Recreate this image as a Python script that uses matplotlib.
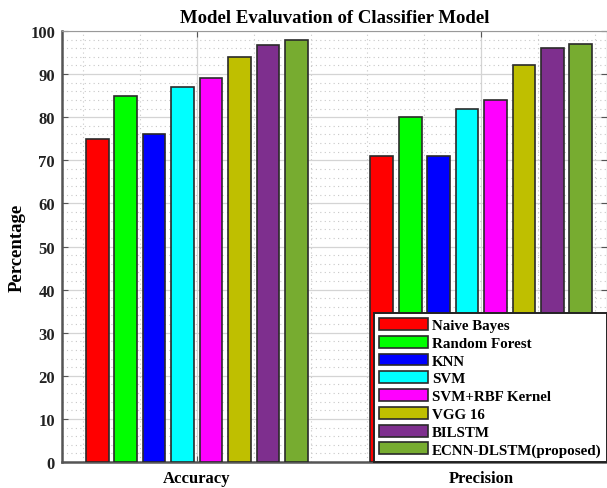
import numpy as np
import matplotlib.pyplot as plt
from matplotlib.ticker import MultipleLocator

# data
metrics = ['Accuracy', 'Precision']
models = ['Naive Bayes', 'Random Forest', 'KNN', 'SVM', 'SVM+RBF Kernel',
          'VGG 16', 'BILSTM', 'ECNN-DLSTM(proposed)']
accuracy = [75, 85, 76, 87, 89, 94, 96.8, 98]
precision = [71, 80, 71, 82, 84, 92, 96, 97]
colors = ['#ff0000', '#00ff00', '#0000ff', '#00ffff', '#ff00ff',
          '#bfbf00', '#7e2f8e', '#77ac30']

plt.rcParams['font.family'] = ['Liberation Serif', 'DejaVu Serif']
plt.rcParams['font.weight'] = 'bold'

fig = plt.figure(figsize=(6.07, 4.89), dpi=100)
ax = fig.add_axes([62 / 607, 26 / 489, 545 / 607, 431 / 489])

x = np.arange(1, len(metrics) + 1)
n = len(models)
slot = 0.1
width = 0.08
values = np.array([accuracy, precision])  # rows = metrics
for i, (name, col) in enumerate(zip(models, colors)):
    offs = (i - (n - 1) / 2) * slot
    ax.bar(x + offs, values[:, i], width, color=col, edgecolor='#2a2a2a',
           linewidth=1.2, label=name, zorder=3)

ax.set_xlim(0.5263, 2.442)
ax.set_ylim(0, 100)
ax.set_xticks(x)
ax.set_xticklabels(metrics, fontsize=12, fontweight='bold')
ax.set_yticks(np.arange(0, 101, 10))
ax.tick_params(axis='y', labelsize=12, pad=5, labelcolor='#222222')
ax.tick_params(axis='x', pad=6)
ax.tick_params(which='major', direction='in', length=4, color='#555555',
               top=True, right=True)
ax.xaxis.set_minor_locator(MultipleLocator(0.2))
ax.yaxis.set_minor_locator(MultipleLocator(2))
ax.tick_params(which='minor', length=0)
ax.grid(which='major', color='#d4d4d4', linewidth=0.9, zorder=0)
ax.grid(which='minor', color='#c8c8c8', linestyle=(0, (1, 3)), linewidth=0.8, zorder=0)
ax.set_axisbelow(True)
for s in ax.spines.values():
    s.set_color('#555555')
ax.spines['top'].set_color('#999999')
ax.spines['left'].set_linewidth(1.8)
ax.spines['bottom'].set_linewidth(1.8)

ax.set_ylabel('Percentage', fontsize=13.5, fontweight='bold')
ax.yaxis.set_label_coords(-0.066, 0.5)
ax.set_title('Model Evaluvation of Classifier Model', fontsize=13.5,
             fontweight='bold', pad=6.5)

leg = ax.legend(loc='lower right', fontsize=10.8, handlelength=3.3,
                handleheight=0.85, labelspacing=0.24, handletextpad=0.25,
                borderpad=0.35, borderaxespad=0.0, fancybox=False,
                framealpha=1, edgecolor='#222222')
leg.get_frame().set_linewidth(1.4)
leg.set_zorder(5)

fig.savefig('out.png', dpi=100)
